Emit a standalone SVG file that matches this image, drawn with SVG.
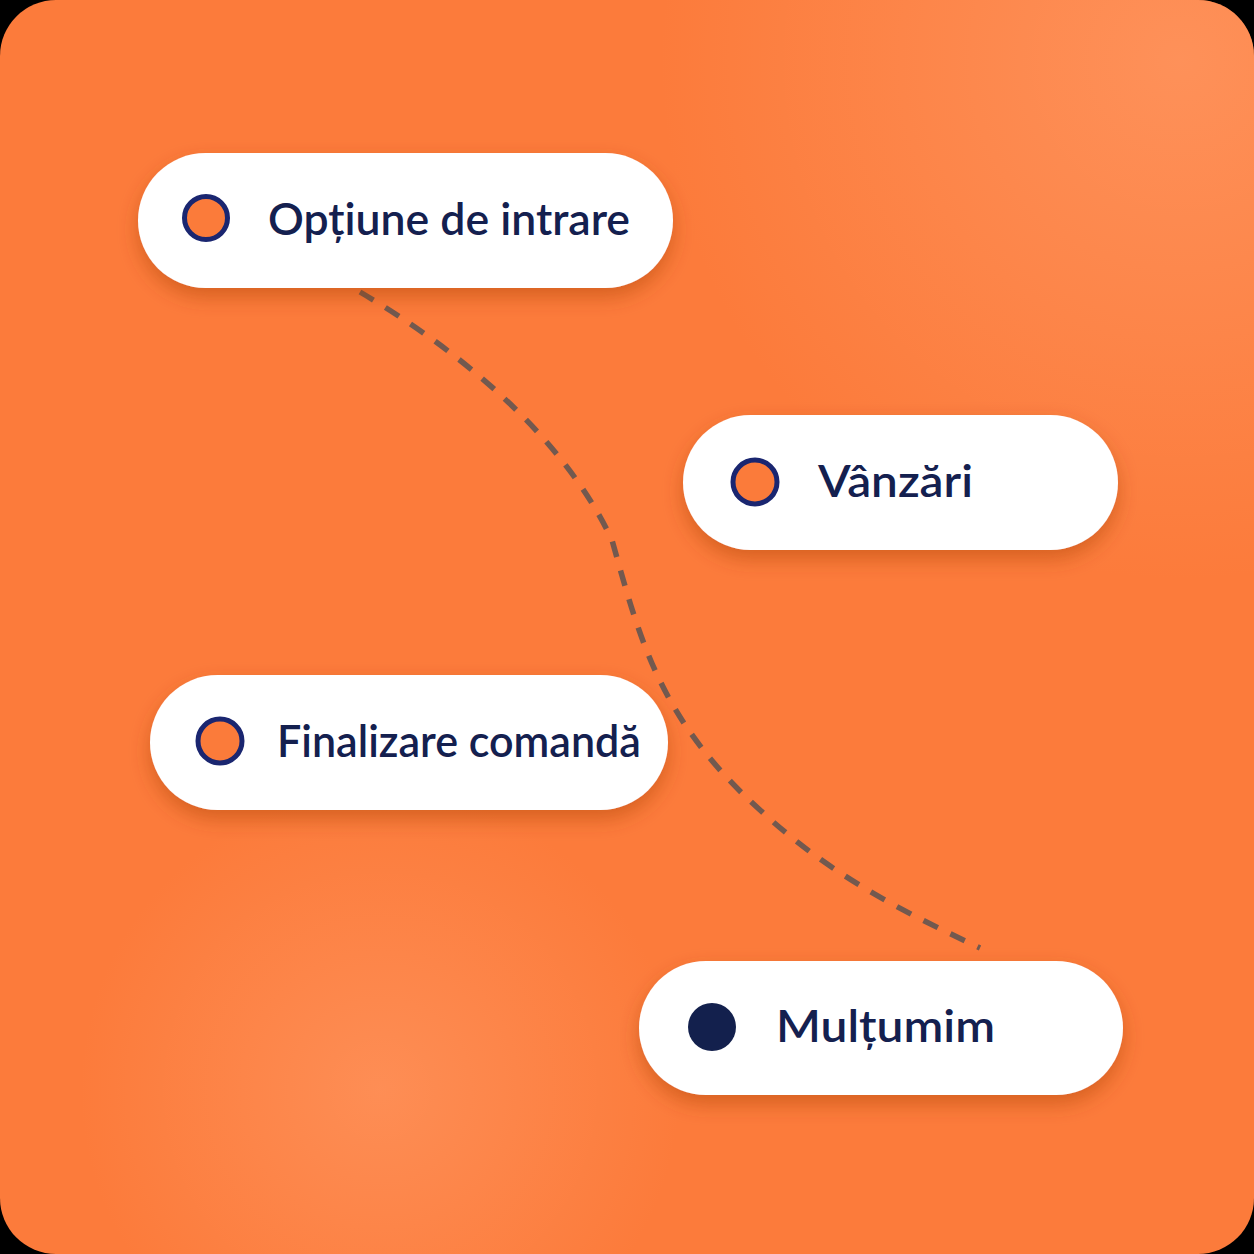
<svg xmlns="http://www.w3.org/2000/svg" width="1254" height="1254" viewBox="0 0 1254 1254">
  <defs>
    <radialGradient id="glowTR" cx="1180" cy="60" r="520" gradientUnits="userSpaceOnUse">
      <stop offset="0" stop-color="#ff9a66" stop-opacity="0.7"/>
      <stop offset="1" stop-color="#ff9a66" stop-opacity="0"/>
    </radialGradient>
    <radialGradient id="glowBL" cx="380" cy="1090" r="300" gradientUnits="userSpaceOnUse">
      <stop offset="0" stop-color="#ff9a66" stop-opacity="0.6"/>
      <stop offset="1" stop-color="#ff9a66" stop-opacity="0"/>
    </radialGradient>
    <filter id="shadow" x="-20%" y="-30%" width="140%" height="170%">
      <feDropShadow dx="0" dy="9" stdDeviation="10" flood-color="#a8400c" flood-opacity="0.45"/>
    </filter>
    <style>
      .pill { fill: #ffffff; filter: url(#shadow); }
      .label { font-family: "Lato", "Open Sans", "Liberation Sans", sans-serif; font-weight: 600; font-size: 45px; fill: #14204f; }
      .ring { fill: #fb7b3a; stroke: #1a2670; stroke-width: 5; }
      .dot { fill: #13204d; }
      .conn { fill: none; stroke: #72594f; stroke-width: 5.5; stroke-dasharray: 16 14; }
    </style>
  </defs>

  <rect x="0" y="0" width="1254" height="1254" fill="#000000"/>
  <rect x="0" y="0" width="1254" height="1254" rx="56" ry="56" fill="#fc7b3b"/>
  <rect x="0" y="0" width="1254" height="1254" rx="56" ry="56" fill="url(#glowTR)"/>
  <rect x="0" y="0" width="1254" height="1254" rx="56" ry="56" fill="url(#glowBL)"/>

  <g id="connectors">
    <path class="conn" d="M360,292 C450,345 560,430 612,540 C640,640 660,720 760,810 C830,875 900,910 980,948"/>
  </g>

  <g id="node-optiune">
    <rect class="pill" x="138" y="153" width="535" height="135" rx="67.5" ry="67.5"/>
    <circle class="ring" cx="206" cy="218" r="21.5"/>
    <text class="label" x="268" y="235" textLength="362" lengthAdjust="spacingAndGlyphs">Opțiune de intrare</text>
  </g>

  <g id="node-vanzari">
    <rect class="pill" x="683" y="415" width="435" height="135" rx="67.5" ry="67.5"/>
    <circle class="ring" cx="755" cy="482" r="22"/>
    <text class="label" x="818" y="497" textLength="155" lengthAdjust="spacingAndGlyphs">Vânzări</text>
  </g>

  <g id="node-finalizare">
    <rect class="pill" x="150" y="675" width="518" height="135" rx="67.5" ry="67.5"/>
    <circle class="ring" cx="220" cy="741" r="22"/>
    <text class="label" x="277" y="757" textLength="364" lengthAdjust="spacingAndGlyphs">Finalizare comandă</text>
  </g>

  <g id="node-multumim">
    <rect class="pill" x="639" y="961" width="484" height="134" rx="67" ry="67"/>
    <circle class="dot" cx="712" cy="1027" r="24"/>
    <text class="label" x="776" y="1042" textLength="219" lengthAdjust="spacingAndGlyphs">Mulțumim</text>
  </g>
</svg>
